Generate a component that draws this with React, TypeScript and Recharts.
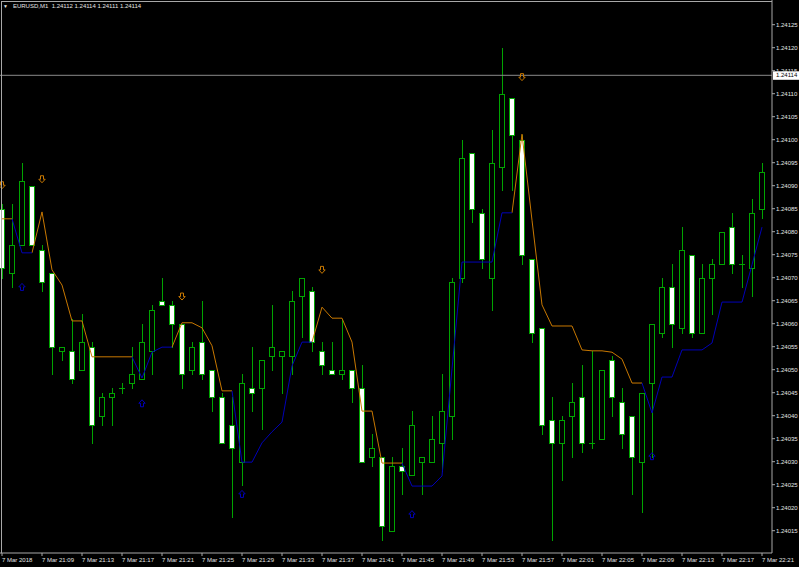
import React from "react";
import { ComposedChart, Bar, Line, XAxis, YAxis, ReferenceLine } from "recharts";

const times = [
  "21:05","21:06","21:07","21:08","21:09","21:10","21:11","21:12","21:13","21:14",
  "21:15","21:16","21:17","21:18","21:19","21:20","21:21","21:22","21:23","21:24",
  "21:25","21:26","21:27","21:28","21:29","21:30","21:31","21:32","21:33","21:34",
  "21:35","21:36","21:37","21:38","21:39","21:40","21:41","21:42","21:43","21:44",
  "21:45","21:46","21:47","21:48","21:49","21:50","21:51","21:52","21:53","21:54",
  "21:55","21:56","21:57","21:58","21:59","22:00","22:01","22:02","22:03","22:04",
  "22:05","22:06","22:07","22:08","22:09","22:10","22:11","22:12","22:13","22:14",
  "22:15","22:16","22:17","22:18","22:19","22:20","22:21",
];

const opens = [
  1.24085,1.24071,1.24077,1.24090,1.24076,1.24071,1.24054,1.24054,1.24050,1.24055,
  1.24040,1.24044,1.24046,1.24047,1.24048,1.24054,1.24065,1.24064,1.24060,1.24050,
  1.24056,1.24050,1.24044,1.24038,1.24030,1.24046,1.24046,1.24053,1.24053,1.24053,
  1.24066,1.24067,1.24054,1.24050,1.24049,1.24050,1.24046,1.24031,1.24031,1.24015,
  1.24029,1.24027,1.24030,1.24030,1.24034,1.24040,1.24070,1.24097,1.24084,1.24070,
  1.24094,1.24109,1.24100,1.24074,1.24059,1.24039,1.24034,1.24040,1.24044,1.24034,
  1.24035,1.24052,1.24043,1.24040,1.24030,1.24047,1.24058,1.24068,1.24059,1.24075,
  1.24058,1.24070,1.24073,1.24081,1.24073,1.24072,1.24085,
];
const highs = [
  1.24086,1.24086,1.24095,1.24090,1.24077,1.24071,1.24055,1.24061,1.24062,1.24056,
  1.24045,1.24046,1.24047,1.24055,1.24060,1.24064,1.24070,1.24065,1.24060,1.24056,
  1.24065,1.24050,1.24045,1.24044,1.24049,1.24055,1.24052,1.24064,1.24054,1.24067,
  1.24070,1.24068,1.24056,1.24056,1.24061,1.24050,1.24051,1.24036,1.24031,1.24031,
  1.24033,1.24041,1.24031,1.24040,1.24049,1.24070,1.24100,1.24097,1.24085,1.24102,
  1.24120,1.24109,1.24101,1.24074,1.24059,1.24044,1.24040,1.24047,1.24051,1.24054,
  1.24050,1.24053,1.24046,1.24040,1.24045,1.24060,1.24070,1.24073,1.24081,1.24075,
  1.24073,1.24074,1.24080,1.24084,1.24075,1.24087,1.24095,
];
const lows = [
  1.24070,1.24068,1.24077,1.24077,1.24067,1.24049,1.24052,1.24047,1.24050,1.24034,
  1.24038,1.24038,1.24045,1.24046,1.24048,1.24049,1.24064,1.24055,1.24046,1.24049,
  1.24048,1.24041,1.24034,1.24018,1.24025,1.24041,1.24037,1.24050,1.24045,1.24049,
  1.24057,1.24054,1.24049,1.24049,1.24048,1.24043,1.24030,1.24029,1.24013,1.24015,
  1.24023,1.24027,1.24023,1.24030,1.24028,1.24035,1.24069,1.24082,1.24072,1.24063,
  1.24089,1.24089,1.24073,1.24056,1.24036,1.24013,1.24026,1.24031,1.24032,1.24033,
  1.24035,1.24040,1.24033,1.24023,1.24019,1.24031,1.24057,1.24055,1.24058,1.24057,
  1.24058,1.24062,1.24073,1.24071,1.24068,1.24066,1.24083,
];
const closes = [
  1.24072,1.24077,1.24091,1.24077,1.24069,1.24055,1.24055,1.24048,1.24056,1.24038,
  1.24044,1.24045,1.24046,1.24049,1.24056,1.24063,1.24064,1.24060,1.24049,1.24055,
  1.24049,1.24044,1.24034,1.24033,1.24047,1.24045,1.24052,1.24055,1.24054,1.24065,
  1.24070,1.24056,1.24051,1.24049,1.24050,1.24046,1.24030,1.24033,1.24016,1.24029,
  1.24028,1.24038,1.24031,1.24035,1.24041,1.24069,1.24096,1.24085,1.24074,1.24095,
  1.24110,1.24101,1.24075,1.24058,1.24038,1.24034,1.24039,1.24043,1.24034,1.24034,
  1.24050,1.24044,1.24036,1.24031,1.24045,1.24060,1.24068,1.24060,1.24076,1.24058,
  1.24070,1.24073,1.24080,1.24073,1.24073,1.24084,1.24093,
];

const trendLine = [
  1.240828,1.240828,1.240754,1.240754,1.240843,1.240717,1.240684,1.240606,1.240606,1.240528,
  1.240528,1.240528,1.240528,1.240528,1.240482,1.240538,1.240549,1.240549,1.240602,1.240602,
  1.240591,1.240552,1.240454,1.240454,1.240299,1.240299,1.240341,1.240365,1.240386,1.240508,
  1.240560,1.240560,1.240636,1.240612,1.240612,1.240560,1.240410,1.240410,1.240297,1.240297,
  1.240297,1.240247,1.240247,1.240247,1.240269,1.240502,1.240734,1.240734,1.240734,1.240734,
  1.240841,1.240841,1.241012,1.240825,1.240641,1.240595,1.240595,1.240595,1.240543,1.240541,
  1.240541,1.240538,1.240523,1.240471,1.240471,1.240406,1.240484,1.240484,1.240543,1.240543,
  1.240543,1.240558,1.240647,1.240647,1.240647,1.240728,1.240810,
];
// colour of the segment leaving each bar: O = above price (orange), B = below price (blue)
const trendSegments = [
  "O", "BB", "OOOOOOOOOO", "BBBB", "OOOOOO", "BBBBBBBB",
  "OOOOOOOOO", "BBBBBBBBBBB", "OOOOOOOOOOOOO", "BBBBBBBBBBBB",
].join("");

const sellArrowBars = [0, 4, 18, 32, 52];
const sellArrowPrices = [1.240901, 1.240914, 1.240659, 1.240717, 1.241136];
const buyArrowBars = [2, 14, 24, 41, 65];
const buyArrowPrices = [1.24068, 1.240427, 1.24023, 1.240186, 1.240312];

const yTicks = [
  1.24015,1.2402,1.24025,1.2403,1.24035,1.2404,1.24045,1.2405,1.24055,1.2406,1.24065,
  1.2407,1.24075,1.2408,1.24085,1.2409,1.24095,1.241,1.24105,1.2411,1.24115,1.2412,1.24125,
];
const xTickLabels = [
  "7 Mar 2018","7 Mar 21:09","7 Mar 21:13","7 Mar 21:17","7 Mar 21:21","7 Mar 21:25",
  "7 Mar 21:29","7 Mar 21:33","7 Mar 21:37","7 Mar 21:41","7 Mar 21:45","7 Mar 21:49",
  "7 Mar 21:53","7 Mar 21:57","7 Mar 22:01","7 Mar 22:05","7 Mar 22:09","7 Mar 22:13",
  "7 Mar 22:17","7 Mar 22:21",
];
const symbolTitle = "EURUSD,M1  1.24112 1.24114 1.24111 1.24114";
const bidPrice = 1.24114;

const GREEN = "#00a400";
const ORANGE = "#c87800";
const BLUE = "#0000b8";
const AXIS = "#a8a8a8";
const TEXT = "#e4e4e4";
const FONT = "'Liberation Sans', Arial, sans-serif";

const data = times.map((t, i) => {
  const segPrev = i > 0 ? trendSegments[i - 1] : "";
  const segNext = i < trendSegments.length ? trendSegments[i] : "";
  const sIdx = sellArrowBars.indexOf(i);
  const bIdx = buyArrowBars.indexOf(i);
  return {
    t,
    o: opens[i],
    h: highs[i],
    l: lows[i],
    c: closes[i],
    up: segPrev === "O" || segNext === "O" ? trendLine[i] : null,
    dn: segPrev === "B" || segNext === "B" ? trendLine[i] : null,
    sell: sIdx >= 0 ? sellArrowPrices[sIdx] : null,
    buy: bIdx >= 0 ? buyArrowPrices[bIdx] : null,
  };
});

const Candle = (props: any) => {
  const { x, y, width, height, payload } = props;
  if (x == null || y == null || !payload) return <g />;
  const top = Math.min(y, y + height);
  const h = Math.abs(height);
  const hi = payload.h;
  const lo = payload.l;
  const py = (p: number) => top + ((hi - p) / (hi - lo)) * h;
  const cx = Math.round(x + width / 2);
  const wx = cx + 0.5;
  const bodyTop = Math.round(py(Math.max(payload.o, payload.c))) + 0.5;
  const bodyBot = Math.round(py(Math.min(payload.o, payload.c))) + 0.5;
  const bull = payload.c > payload.o;
  const doji = payload.c === payload.o;
  return (
    <g>
      <line x1={wx} x2={wx} y1={Math.round(py(hi))} y2={Math.round(py(lo)) + 1} stroke={GREEN} strokeWidth={1} />
      {doji ? (
        <line x1={cx - 3} x2={cx + 3} y1={bodyTop} y2={bodyTop} stroke={GREEN} strokeWidth={1} />
      ) : (
        <rect
          x={cx - 2.5}
          y={bodyTop}
          width={5}
          height={Math.max(1, bodyBot - bodyTop)}
          fill={bull ? "#000000" : "#ffffff"}
          stroke={GREEN}
          strokeWidth={1}
        />
      )}
    </g>
  );
};

const SellArrow = (props: any) => {
  const { cx, cy, index } = props;
  if (cx == null || cy == null || props.value == null) return <g key={"s" + index} />;
  const d = `M${cx - 1.5},${cy - 3.5} L${cx + 1.5},${cy - 3.5} L${cx + 1.5},${cy} L${cx + 3.2},${cy} L${cx},${cy + 3.5} L${cx - 3.2},${cy} L${cx - 1.5},${cy} Z`;
  return <path key={"s" + index} d={d} fill="none" stroke={ORANGE} strokeWidth={1} />;
};
const BuyArrow = (props: any) => {
  const { cx, cy, index } = props;
  if (cx == null || cy == null || props.value == null) return <g key={"b" + index} />;
  const d = `M${cx - 1.5},${cy + 3.5} L${cx + 1.5},${cy + 3.5} L${cx + 1.5},${cy} L${cx + 3.2},${cy} L${cx},${cy - 3.5} L${cx - 3.2},${cy} L${cx - 1.5},${cy} Z`;
  return <path key={"b" + index} d={d} fill="none" stroke={BLUE} strokeWidth={1} />;
};

const XTick = (props: any) => {
  const { x, y, payload } = props;
  const i = times.indexOf(payload.value);
  const label = i >= 0 && i % 4 === 0 ? xTickLabels[i / 4] : "";
  return (
    <text x={x} y={y} dy="0.71em" textAnchor="start" fill={TEXT} fontSize={6} fontFamily={FONT}>
      {label}
    </text>
  );
};

const PriceLabel = (props: any) => {
  const vb = props.viewBox || {};
  const xx = (vb.x || 0) + (vb.width || 0);
  const yy = vb.y || 0;
  return (
    <g>
      <rect x={xx + 1} y={yy - 4} width={27} height={8.5} fill="#ffffff" />
      <text x={xx + 4} y={yy} dy="0.36em" fill="#000000" fontSize={6} fontFamily={FONT}>
        {bidPrice.toFixed(5)}
      </text>
    </g>
  );
};

export default function App() {
  return (
    <div
      style={{
        position: "fixed",
        left: 0,
        top: 0,
        width: 799,
        height: 567,
        background: "#000000",
        overflow: "hidden",
      }}
    >
      <div style={{ position: "absolute", left: -3, top: 0 }}>
        <ComposedChart width={802} height={567} data={data} margin={{ top: 0, right: 0, bottom: 0, left: 0 }}>
          <XAxis
            dataKey="t"
            height={14}
            padding={{ left: 0, right: 5 }}
            interval={3}
            tickSize={3}
            tickMargin={2}
            tickLine={{ stroke: AXIS }}
            axisLine={{ stroke: AXIS }}
            tick={<XTick />}
          />
          <YAxis
            orientation="right"
            width={27}
            domain={[1.2401015, 1.2413037]}
            allowDataOverflow
            ticks={yTicks}
            interval={0}
            tickFormatter={(v: number) => v.toFixed(5)}
            tickSize={3}
            tickMargin={1}
            tickLine={{ stroke: AXIS }}
            axisLine={{ stroke: AXIS }}
            tick={{ fill: TEXT, fontSize: 6, fontFamily: FONT }}
          />
          <Bar
            dataKey={(d: any) => [d.l, d.h]}
            barSize={6}
            shape={<Candle />}
            activeBar={false}
            isAnimationActive={false}
          />
          <ReferenceLine y={bidPrice} stroke="#8a8a8a" strokeWidth={1} label={<PriceLabel />} />
          <Line dataKey="up" stroke={ORANGE} strokeWidth={1} dot={false} activeDot={false} connectNulls={false} isAnimationActive={false} />
          <Line dataKey="dn" stroke={BLUE} strokeWidth={1} dot={false} activeDot={false} connectNulls={false} isAnimationActive={false} />
          <Line dataKey="sell" stroke="none" dot={SellArrow} activeDot={false} isAnimationActive={false} />
          <Line dataKey="buy" stroke="none" dot={BuyArrow} activeDot={false} isAnimationActive={false} />
        </ComposedChart>
      </div>
      <div style={{ position: "absolute", left: 1, top: 1, width: 771, height: 1, background: AXIS }} />
      <div style={{ position: "absolute", left: 1, top: 1, width: 1, height: 552, background: AXIS }} />
      <div
        style={{
          position: "absolute",
          left: 3,
          top: 2,
          fontSize: 6,
          lineHeight: "8px",
          fontFamily: FONT,
          color: TEXT,
          whiteSpace: "pre",
        }}
      >
        <span style={{ fontSize: 5 }}>{"\u25BC"}</span>
        {"   " + symbolTitle}
      </div>
    </div>
  );
}
